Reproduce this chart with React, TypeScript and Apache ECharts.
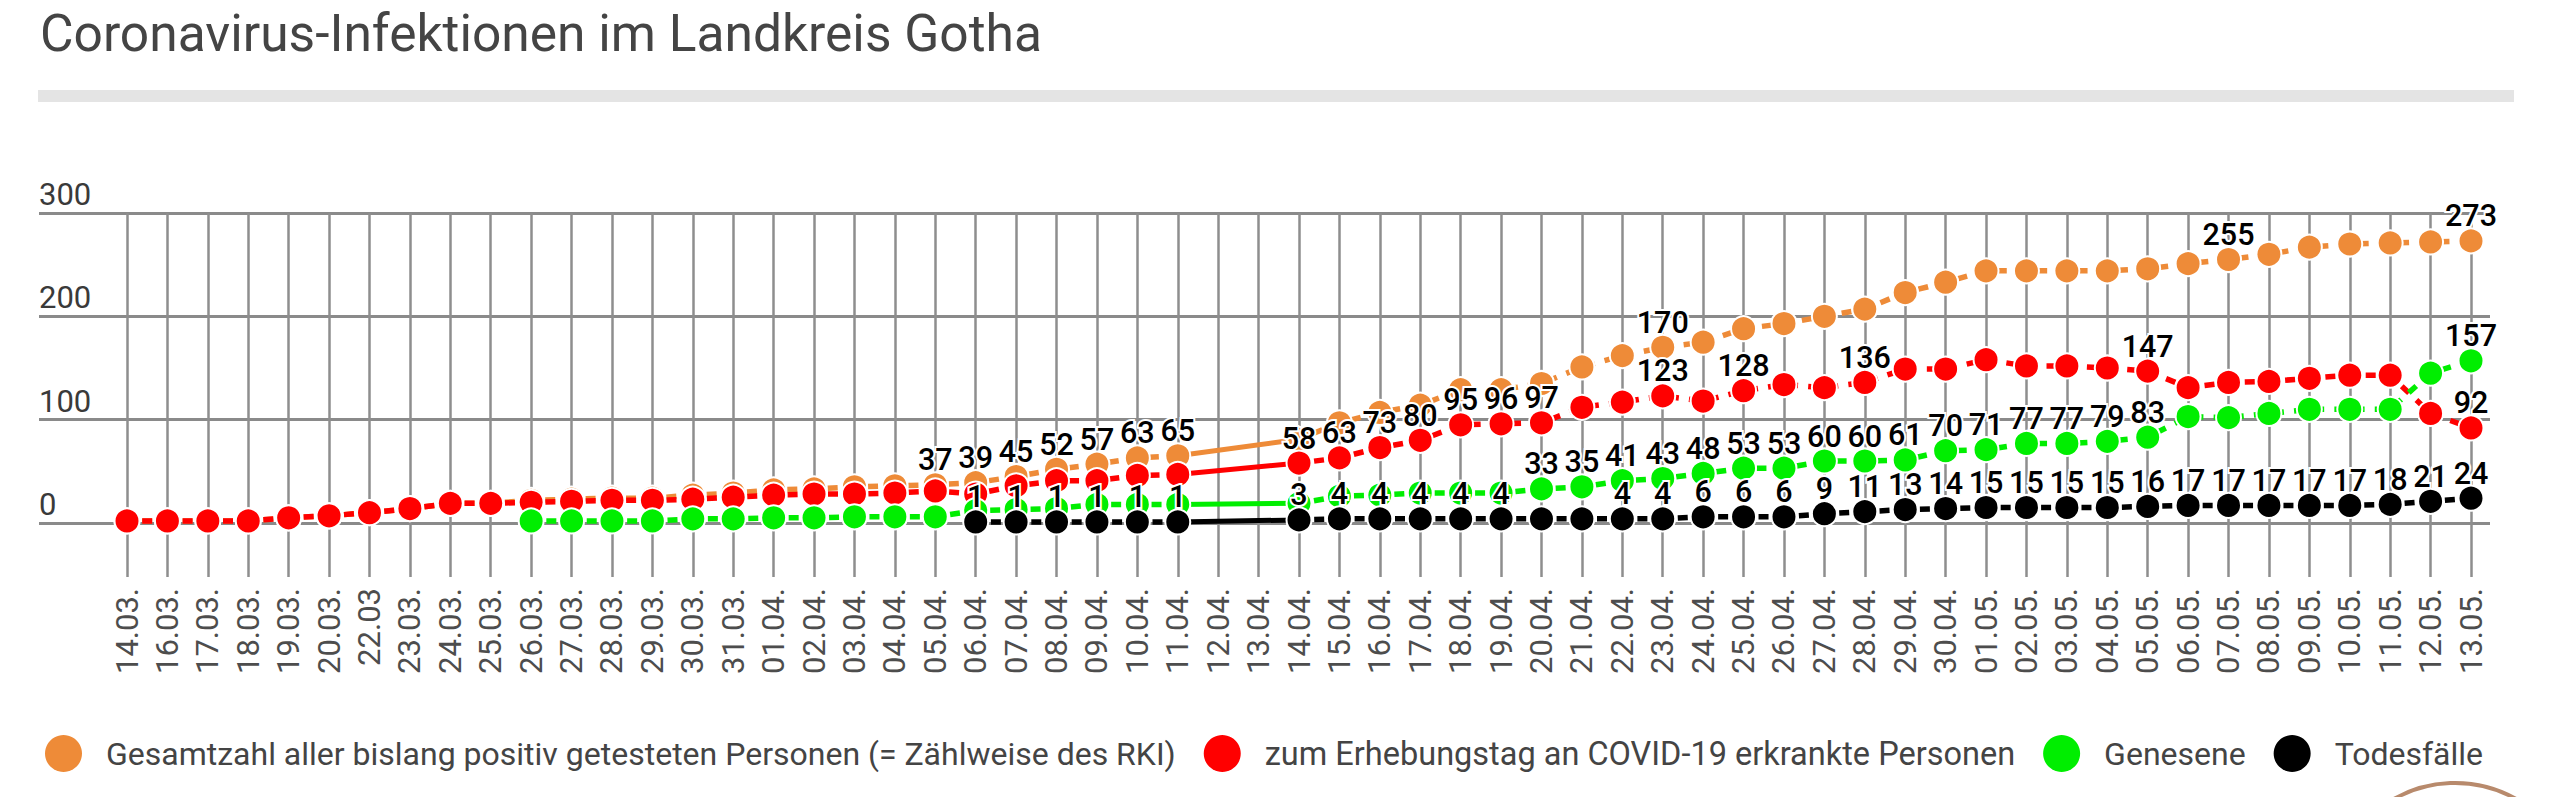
import React, { useEffect, useRef } from "react";
import * as echarts from "echarts";

const title = "Coronavirus-Infektionen im Landkreis Gotha";

const dates = [
  "14.03.", "16.03.", "17.03.", "18.03.", "19.03.", "20.03.", "22.03", "23.03.", "24.03.", "25.03.",
  "26.03.", "27.03.", "28.03.", "29.03.", "30.03.", "31.03.", "01.04.", "02.04.", "03.04.", "04.04.",
  "05.04.", "06.04.", "07.04.", "08.04.", "09.04.", "10.04.", "11.04.", "12.04.", "13.04.", "14.04.",
  "15.04.", "16.04.", "17.04.", "18.04.", "19.04.", "20.04.", "21.04.", "22.04.", "23.04.", "24.04.",
  "25.04.", "26.04.", "27.04.", "28.04.", "29.04.", "30.04.", "01.05.", "02.05.", "03.05.", "04.05.",
  "05.05.", "06.05.", "07.05.", "08.05.", "09.05.", "10.05.", "11.05.", "12.05.", "13.05.",
];

const seriesNames = [
  "Gesamtzahl aller bislang positiv getesteten Personen (= Zählweise des RKI)",
  "zum Erhebungstag an COVID-19 erkrankte Personen",
  "Genesene",
  "Todesfälle",
];

const seriesColors = ["#ee8b38", "#ff0000", "#00ee00", "#000000"];

const total = [
  2, 2, 2, 2, 5, 7, 10, 14, 19, 19,
  22, 23, 24, 24, 27, 29, 32, 33, 35, 36,
  37, 39, 45, 52, 57, 63, 65, null, null, 81,
  97, 107, 114, 129, 129, 135, 151, 162, 170, 175,
  188, 193, 200, 207, 223, 233, 244, 244, 244, 244,
  246, 251, 255, 260, 267, 270, 271, 272, 273,
];

const active = [
  2, 2, 2, 2, 5, 7, 10, 14, 19, 19,
  20, 21, 22, 22, 23, 25, 27, 28, 28, 29,
  31, 28, 36, 41, 41, 46, 47, null, null, 58,
  63, 73, 80, 95, 96, 97, 112, 117, 123, 118,
  128, 134, 131, 136, 149, 149, 158, 152, 152, 150,
  147, 131, 136, 137, 140, 143, 143, 106, 92,
];

const recovered = [
  null, null, null, null, null, null, null, null, null, null,
  2, 2, 2, 2, 4, 4, 5, 5, 6, 6,
  6, 12, 13, 14, 18, 18, 18, null, null, 19,
  26, 27, 29, 29, 29, 33, 35, 41, 43, 48,
  53, 53, 60, 60, 61, 70, 71, 77, 77, 79,
  83, 103, 102, 106, 110, 110, 110, 145, 157,
];

const deaths = [
  null, null, null, null, null, null, null, null, null, null,
  null, null, null, null, null, null, null, null, null, null,
  null, 1, 1, 1, 1, 1, 1, null, null, 3,
  4, 4, 4, 4, 4, 4, 4, 4, 4, 6,
  6, 6, 9, 11, 13, 14, 15, 15, 15, 15,
  16, 17, 17, 17, 17, 17, 18, 21, 24,
];

// indices of points whose value is printed in the reference
const totalLabelIdx = [20, 21, 22, 23, 24, 25, 26, 38, 52, 58];
const activeLabelIdx = [29, 30, 31, 32, 33, 34, 35, 38, 40, 43, 50, 58];
const recoveredLabelIdx = [35, 36, 37, 38, 39, 40, 41, 42, 43, 44, 45, 46, 47, 48, 49, 50, 58];
const deathsLabelIdx = [
  21, 22, 23, 24, 25, 26, 29, 30, 31, 32, 33, 34,
  37, 38, 39, 40, 41, 42, 43, 44, 45, 46, 47, 48, 49, 50, 51, 52, 53, 54, 55, 56, 57, 58,
];

// the two reporting days without data are bridged by a solid line
const gapFrom = 26;
const gapTo = 29;

const yTicks = { min: 0, max: 300, interval: 100 };

const FONT = "Roboto, 'Noto Sans', sans-serif";

export default function App() {
  const ref = useRef<HTMLDivElement>(null);

  useEffect(() => {
    if (!ref.current) return;
    const chart = echarts.init(ref.current, undefined, { renderer: "svg" });

    const allValues = [total, active, recovered, deaths];
    const allLabels = [totalLabelIdx, activeLabelIdx, recoveredLabelIdx, deathsLabelIdx];

    const mainSeries = allValues.map((vals, s) => ({
      type: "line",
      name: seriesNames[s],
      xAxisIndex: 1,
      yAxisIndex: 1,
      z: 3 + s,
      symbol: "circle",
      symbolSize: 25,
      showSymbol: true,
      connectNulls: false,
      lineStyle: { color: seriesColors[s], width: 5.5, type: [10, 10.2], dashOffset: 5 },
      itemStyle: { color: seriesColors[s], borderColor: "#ffffff", borderWidth: 2 },
      emphasis: { disabled: true },
      label: {
        show: false,
        position: "top",
        distance: -4,
        fontSize: 30.5,
        fontWeight: 500,
        fontFamily: FONT,
        color: "#000000",
        textBorderColor: "#ffffff",
        textBorderWidth: 4,
      },
      data: vals.map((v, i) =>
        v === null ? "-" : { value: v, label: { show: allLabels[s].includes(i) } }
      ),
    }));

    const gapSeries = allValues.map((vals, s) => ({
      type: "line",
      name: "gap-" + s,
      xAxisIndex: 1,
      yAxisIndex: 1,
      z: 3 + s,
      symbol: "none",
      connectNulls: true,
      silent: true,
      lineStyle: { color: seriesColors[s], width: 5, type: "solid" },
      emphasis: { disabled: true },
      data: vals.map((v, i) => (i === gapFrom || i === gapTo ? v : "-")),
    }));

    chart.setOption({
      animation: false,
      backgroundColor: "#ffffff",
      textStyle: { fontFamily: FONT },
      title: {
        text: title,
        left: 40,
        top: 7,
        padding: 0,
        textStyle: { fontSize: 51.5, fontWeight: "normal", color: "#444444", fontFamily: FONT },
      },
      graphic: [
        {
          type: "rect",
          shape: { x: 38, y: 90, width: 2476, height: 12 },
          style: { fill: "#e4e4e4" },
          silent: true,
        },
        {
          type: "circle",
          shape: { cx: 2455, cy: 908, r: 125 },
          style: { fill: "none", stroke: "#b88a6c", lineWidth: 4 },
          silent: true,
        },
      ],
      legend: {
        data: seriesNames.map((name, s) =>
          s === 1 ? { name, textStyle: { fontSize: 32.5 } } : { name }
        ),
        left: 45,
        top: 735,
        padding: 0,
        icon: "circle",
        itemWidth: 37,
        itemHeight: 37,
        itemGap: 28,
        itemStyle: { borderWidth: 0 },
        selectedMode: false,
        textStyle: { fontSize: 32, color: "#444444", fontFamily: FONT, padding: [0, 0, 0, 19] },
      },
      grid: [
        { left: 39, top: 213, width: 2451, height: 310 },
        { left: 127, top: 213, width: 2344, height: 310 },
      ],
      xAxis: [
        { type: "value", gridIndex: 0, show: false, min: 0, max: 1 },
        {
          type: "category",
          gridIndex: 1,
          data: dates,
          boundaryGap: false,
          axisLine: { show: false },
          axisTick: { show: true, length: 54, lineStyle: { color: "#8e8e8e", width: 2.5 } },
          splitLine: { show: true, lineStyle: { color: "#8e8e8e", width: 2.5 } },
          axisLabel: {
            interval: 0,
            rotate: 90,
            margin: 65,
            fontSize: 31,
            color: "#4d4d4d",
            fontFamily: FONT,
          },
        },
      ],
      yAxis: [
        {
          type: "value",
          gridIndex: 0,
          min: yTicks.min,
          max: yTicks.max,
          interval: yTicks.interval,
          axisLine: { show: false },
          axisTick: { show: false },
          splitLine: { show: true, lineStyle: { color: "#8a8a8a", width: 3 } },
          axisLabel: {
            inside: true,
            margin: 0,
            verticalAlign: "bottom",
            padding: [0, 0, 3, 0],
            fontSize: 31,
            color: "#3a3a3a",
            fontFamily: FONT,
          },
        },
        {
          type: "value",
          gridIndex: 1,
          min: yTicks.min,
          max: yTicks.max,
          interval: yTicks.interval,
          show: false,
          splitLine: { show: false },
        },
      ],
      series: [...mainSeries, ...gapSeries],
    });

    return () => chart.dispose();
  }, []);

  return (
    <div
      ref={ref}
      style={{ position: "absolute", left: 0, top: 0, width: 2560, height: 797, background: "#fff" }}
    />
  );
}
